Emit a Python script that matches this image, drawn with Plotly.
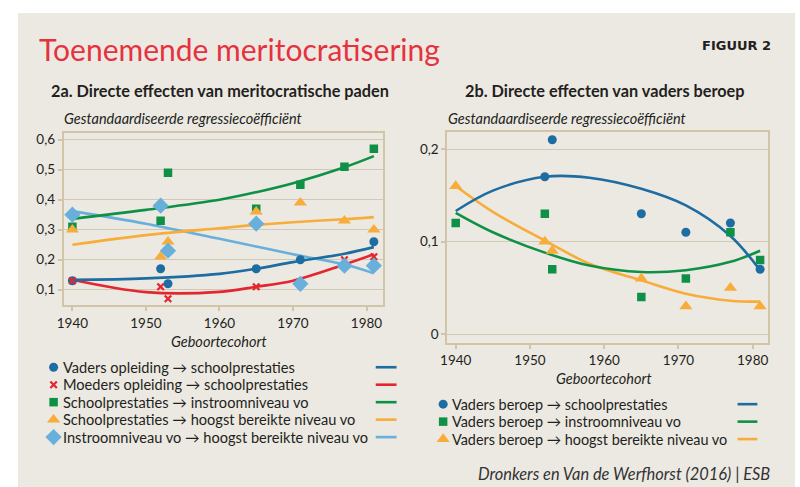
import plotly.graph_objects as go

# ---------------- data ----------------
cohorts = [1940, 1952, 1953, 1965, 1971, 1977, 1981]

# Panel 2a (None = not visible in the picture)
a_vader = [0.13, 0.17, 0.12, 0.17, 0.20, None, 0.26]
a_moeder = [0.13, 0.11, 0.07, 0.11, None, 0.20, 0.21]
a_instroom = [0.31, 0.33, 0.49, 0.37, 0.45, 0.51, 0.57]
a_hoogst = [0.30, 0.21, 0.26, 0.36, 0.39, 0.33, 0.30]
a_instr_hoogst = [0.35, 0.38, 0.23, 0.32, 0.12, 0.18, 0.18]

trend_years_a = [1940, 1950, 1960, 1965, 1970, 1977, 1981]
a_vader_trend = [0.133, 0.138, 0.153, 0.170, 0.192, 0.220, 0.242]
a_moeder_trend = [0.133, 0.092, 0.093, 0.110, 0.130, 0.184, 0.218]
a_instroom_trend = [0.336, 0.366, 0.400, 0.425, 0.455, 0.508, 0.545]
a_hoogst_trend = [0.250, 0.282, 0.305, 0.316, 0.325, 0.335, 0.342]
a_instr_hoogst_trend = [0.362, 0.320, 0.270, 0.244, 0.218, 0.184, 0.155]

# Panel 2b
b_school = [None, 0.17, 0.21, 0.13, 0.11, 0.12, 0.07]
b_instroom = [0.12, 0.13, 0.07, 0.04, 0.06, 0.11, 0.08]
b_hoogst = [0.16, 0.10, 0.09, 0.06, 0.03, 0.05, 0.03]

trend_years_b = [1940, 1945, 1952, 1958, 1965, 1971, 1977, 1981]
b_school_trend = [0.133, 0.155, 0.170, 0.169, 0.157, 0.139, 0.106, 0.069]
b_instroom_trend = [0.131, 0.110, 0.088, 0.074, 0.067, 0.069, 0.078, 0.090]
b_hoogst_trend = [0.160, 0.132, 0.101, 0.076, 0.058, 0.0435, 0.036, 0.035]

x_ticks = [1940, 1950, 1960, 1970, 1980]
a_yticks = [0.1, 0.2, 0.3, 0.4, 0.5, 0.6]
a_yticktext = ["0,1", "0,2", "0,3", "0,4", "0,5", "0,6"]
b_yticks = [0, 0.1, 0.2]
b_yticktext = ["0", "0,1", "0,2"]

legend_a = [
    "Vaders opleiding → schoolprestaties",
    "Moeders opleiding → schoolprestaties",
    "Schoolprestaties → instroomniveau vo",
    "Schoolprestaties → hoogst bereikte niveau vo",
    "Instroomniveau vo → hoogst bereikte niveau vo",
]
legend_b = [
    "Vaders beroep → schoolprestaties",
    "Vaders beroep → instroomniveau vo",
    "Vaders beroep → hoogst bereikte niveau vo",
]

# ---------------- style ----------------
W, H = 800, 487
BG = "#ECE9E2"
GRID = "#D3C8B4"
BORDER = "#D2C4A6"
TXT = "#231F20"
BLUE = "#1D6CA2"
RED = "#E3262F"
GREEN = "#0E9146"
ORANGE = "#F8AC3A"
LBLUE = "#68B0DB"
FONT = "Lato"

SIZES = {"circle": 9, "x-thin-open": 6.5, "square": 8.5, "triangle-up": 11.5, "diamond": 12.5}

def px(x):
    return x / W

def py(y):
    return 1 - y / H

fig = go.Figure()

def marker_style(color, symbol):
    m = dict(color=color, symbol=symbol, size=SIZES[symbol], line=dict(width=0))
    if symbol == "x-thin-open":
        m["line"] = dict(color=color, width=2.3)
    return m

def scatter(x, y, color, symbol, xa, ya):
    fig.add_trace(go.Scatter(x=x, y=y, mode="markers", xaxis=xa, yaxis=ya,
                             marker=marker_style(color, symbol),
                             showlegend=False, hoverinfo="skip"))

def trend(x, y, color, xa, ya):
    fig.add_trace(go.Scatter(x=x, y=y, mode="lines", xaxis=xa, yaxis=ya,
                             line=dict(color=color, width=2.6, shape="spline", smoothing=1.0),
                             showlegend=False, hoverinfo="skip"))

# Panel a
trend(trend_years_a, a_instr_hoogst_trend, LBLUE, "x", "y")
trend(trend_years_a, a_hoogst_trend, ORANGE, "x", "y")
trend(trend_years_a, a_instroom_trend, GREEN, "x", "y")
trend(trend_years_a, a_moeder_trend, RED, "x", "y")
trend(trend_years_a, a_vader_trend, BLUE, "x", "y")
scatter(cohorts, a_vader, BLUE, "circle", "x", "y")
scatter(cohorts, a_moeder, RED, "x-thin-open", "x", "y")
scatter(cohorts, a_instroom, GREEN, "square", "x", "y")
scatter(cohorts, a_hoogst, ORANGE, "triangle-up", "x", "y")
scatter(cohorts, a_instr_hoogst, LBLUE, "diamond", "x", "y")

# Panel b
trend(trend_years_b, b_hoogst_trend, ORANGE, "x2", "y2")
trend(trend_years_b, b_instroom_trend, GREEN, "x2", "y2")
trend(trend_years_b, b_school_trend, BLUE, "x2", "y2")
scatter(cohorts, b_school, BLUE, "circle", "x2", "y2")
scatter(cohorts, b_instroom, GREEN, "square", "x2", "y2")
scatter(cohorts, b_hoogst, ORANGE, "triangle-up", "x2", "y2")

# Legend markers on an overlay pixel axis
leg_a_y = [367, 384.5, 402, 419.5, 437]
leg_a_cols = [BLUE, RED, GREEN, ORANGE, LBLUE]
leg_a_syms = ["circle", "x-thin-open", "square", "triangle-up", "diamond"]
leg_b_y = [404, 421.5, 439]
leg_b_cols = [BLUE, GREEN, ORANGE]
leg_b_syms = ["circle", "square", "triangle-up"]

for yy, c, s in zip(leg_a_y, leg_a_cols, leg_a_syms):
    fig.add_trace(go.Scatter(x=[47], y=[yy], mode="markers", xaxis="x3", yaxis="y3",
                             marker=marker_style(c, s), showlegend=False, hoverinfo="skip"))
for yy, c, s in zip(leg_b_y, leg_b_cols, leg_b_syms):
    fig.add_trace(go.Scatter(x=[440], y=[yy], mode="markers", xaxis="x3", yaxis="y3",
                             marker=marker_style(c, s), showlegend=False, hoverinfo="skip"))

shapes = [dict(type="rect", xref="paper", yref="paper", x0=px(11), x1=px(795), y0=py(487), y1=py(12),
               fillcolor=BG, line=dict(width=0), layer="below")]
for yy, c in zip(leg_a_y, leg_a_cols):
    shapes.append(dict(type="line", xref="paper", yref="paper", x0=px(372), x1=px(393), y0=py(yy), y1=py(yy),
                       line=dict(color=c, width=2.6)))
for yy, c in zip(leg_b_y, leg_b_cols):
    shapes.append(dict(type="line", xref="paper", yref="paper", x0=px(737), x1=px(757), y0=py(yy), y1=py(yy),
                       line=dict(color=c, width=2.6)))

ann = []
def text(x, y, s, size, xanchor="left", color=TXT, bold=False, italic=False, family=FONT):
    if bold:
        s = "<b>" + s + "</b>"
    if italic:
        s = "<i>" + s + "</i>"
    ann.append(dict(x=px(x), y=py(y), xref="paper", yref="paper", text=s, showarrow=False,
                    xanchor=xanchor, yanchor="middle", font=dict(size=size, color=color, family=family)))

text(30, 48, "Toenemende meritocratisering", 30, color="#E5323E")
text(773, 45, "FIGUUR 2", 13, xanchor="right", bold=True, family="DejaVu Sans")
text(215, 90, "2a. Directe effecten van meritocratische paden", 16.3, xanchor="center", bold=True)
text(603, 90, "2b. Directe effecten van vaders beroep", 16.3, xanchor="center", bold=True)
text(55, 118, "Gestandaardiseerde regressiecoëfficiënt", 14.5, italic=True)
text(443, 118, "Gestandaardiseerde regressiecoëfficiënt", 14.5, italic=True)
text(214, 341, "Geboortecohort", 14.5, xanchor="center", italic=True)
text(602, 378, "Geboortecohort", 14.5, xanchor="center", italic=True)
for yy, s in zip(leg_a_y, legend_a):
    text(54, yy, s, 14.6)
for yy, s in zip(leg_b_y, legend_b):
    text(447, yy, s, 14.4)
text(772, 473, "Dronkers en Van de Werfhorst (2016) | ESB", 16.4, xanchor="right", italic=True, color="#333")

axis_common = dict(showline=True, linecolor=BORDER, linewidth=2, mirror=True, zeroline=False,
                   ticks="outside", ticklen=4, tickcolor=BORDER, tickwidth=1.5,
                   tickfont=dict(family=FONT, size=13.5, color=TXT))

fig.update_layout(
    width=W, height=H, margin=dict(l=0, r=0, t=0, b=0),
    paper_bgcolor="white", plot_bgcolor="rgba(0,0,0,0)", showlegend=False,
    shapes=shapes, annotations=ann,
    xaxis=dict(domain=[px(57.3), px(379)], range=[1938.83, 1982.2], tickvals=x_ticks,
               showgrid=False, anchor="y", **axis_common),
    yaxis=dict(domain=[py(305), py(132)], range=[0.048, 0.623], tickvals=a_yticks, ticktext=a_yticktext,
               showgrid=True, gridcolor=GRID, gridwidth=1.3, anchor="x", **axis_common),
    xaxis2=dict(domain=[px(444.3), px(768)], range=[1938.88, 1982.1], tickvals=x_ticks,
                showgrid=False, anchor="y2", **axis_common),
    yaxis2=dict(domain=[py(342.7), py(131)], range=[-0.0097, 0.2187], tickvals=b_yticks, ticktext=b_yticktext,
                showgrid=True, gridcolor=GRID, gridwidth=1.3, anchor="x2", **axis_common),
    xaxis3=dict(domain=[0, 1], range=[0, W], visible=False, anchor="y3"),
    yaxis3=dict(domain=[0, 1], range=[H, 0], visible=False, anchor="x3"),
)

post = ("document.body.style.margin='0';document.body.style.padding='0';"
        "document.body.style.overflow='hidden';"
        "var d=document.getElementById('{plot_id}');"
        "d.style.position='absolute';d.style.left='0px';d.style.top='0px';")
fig.write_html("out.html", config={"displayModeBar": False}, post_script=post)
